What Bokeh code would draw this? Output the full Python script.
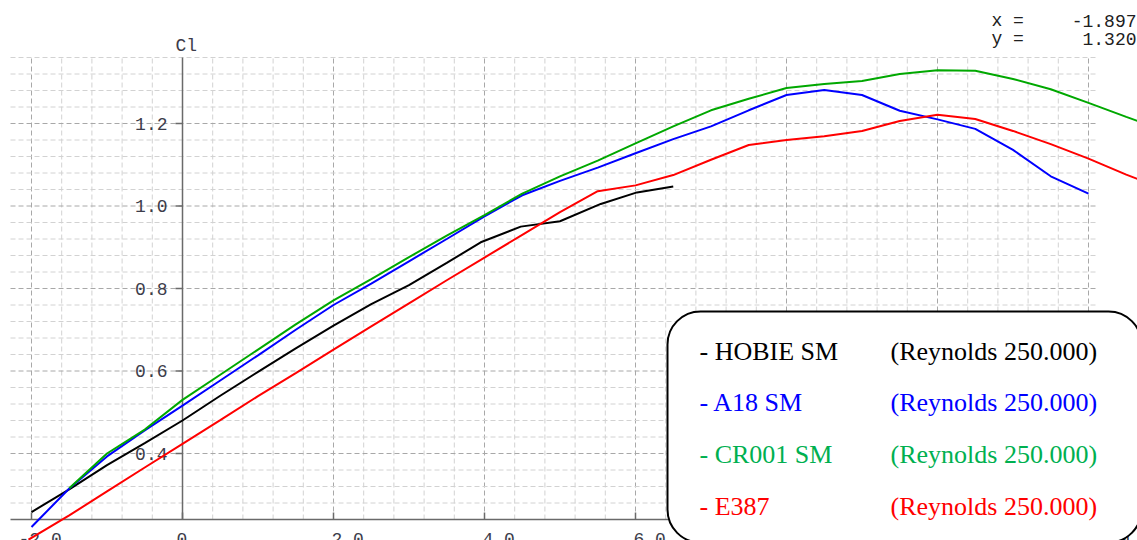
import numpy as np
from bokeh.plotting import figure
from bokeh.models import BoxAnnotation, Range1d
from bokeh.core.properties import value
from bokeh.embed import file_html
from bokeh.resources import INLINE

# ---------------- data ----------------
hobie_alpha = [-2.0, -1.5, -1.0, -0.5, 0.0, 0.5, 1.0, 1.5, 2.0, 2.5, 3.0, 3.5,
               3.95, 4.48, 5.0, 5.54, 6.02, 6.5]
hobie_cl = [0.258, 0.313, 0.372, 0.425, 0.480, 0.540, 0.598, 0.655, 0.710, 0.762,
            0.808, 0.862, 0.912, 0.950, 0.963, 1.005, 1.033, 1.047]

a18_alpha = [-2.0, -1.5, -1.0, -0.5, 0.0, 0.5, 1.0, 1.5, 2.0, 2.5, 3.0, 3.5, 4.0,
             4.5, 5.0, 5.5, 6.0, 6.5, 7.0, 7.5, 8.0, 8.5, 9.0, 9.5, 10.0, 10.5,
             11.0, 11.5, 12.0]
a18_cl = [0.222, 0.315, 0.393, 0.456, 0.516, 0.577, 0.638, 0.700, 0.760, 0.812,
          0.866, 0.920, 0.975, 1.026, 1.061, 1.093, 1.128, 1.162, 1.193, 1.232,
          1.269, 1.281, 1.269, 1.231, 1.210, 1.187, 1.136, 1.072, 1.030]

cr001_alpha = [-1.5, -1.0, -0.5, 0.0, 0.5, 1.0, 1.5, 2.0, 2.5, 3.0, 3.5, 4.0, 4.5,
               5.0, 5.5, 6.0, 6.5, 7.0, 7.5, 8.0, 8.5, 9.0, 9.5, 10.0, 10.5, 11.0,
               11.5, 12.0, 12.5, 12.7]
cr001_cl = [0.316, 0.400, 0.458, 0.530, 0.591, 0.652, 0.713, 0.771, 0.823, 0.876,
            0.928, 0.978, 1.030, 1.072, 1.110, 1.152, 1.193, 1.232, 1.260, 1.286,
            1.296, 1.303, 1.320, 1.329, 1.328, 1.308, 1.283, 1.250, 1.216, 1.203]

e387_alpha = [-2.04, -1.5, -1.0, -0.5, 0.0, 0.5, 1.0, 1.5, 2.0, 2.5, 3.0, 3.5, 4.0,
              4.5, 5.0, 5.5, 6.0, 6.5, 7.0, 7.5, 8.0, 8.5, 9.0, 9.5, 10.0, 10.5,
              11.0, 11.5, 12.0, 12.5, 12.7]
e387_cl = [0.191, 0.250, 0.308, 0.366, 0.4235, 0.481, 0.539, 0.595, 0.652, 0.708,
           0.764, 0.820, 0.875, 0.930, 0.985, 1.036, 1.050, 1.075, 1.112, 1.148,
           1.160, 1.169, 1.182, 1.206, 1.221, 1.211, 1.182, 1.150, 1.115, 1.076,
           1.062]

x_ticks = [-2.0, 0.0, 2.0, 4.0, 6.0, 8.0, 10.0, 12.0]
x_tick_labels = ["-2.0", "0", "2.0", "4.0", "6.0", "8.0", "10.0", "12.0"]
y_ticks = [0.4, 0.6, 0.8, 1.0, 1.2]
y_tick_labels = ["0.4", "0.6", "0.8", "1.0", "1.2"]
y_axis_label = "Cl"

legend_names = ["- HOBIE SM", "- A18 SM", "- CR001 SM", "- E387"]
legend_reynolds = ["(Reynolds 250.000)"] * 4

readout_names = ["x =", "y ="]
readout_values = ["-1.897", "1.320"]

# ---------------- layout (page pixel <-> data) ----------------
PX0, SX = 182.0, 75.5              # page px of alpha = 0, px per degree
PY0, CL0, SY = 519.0, 0.24, 412.5  # page px of Cl axis line, its value, px per unit
ORG = 0                            # page px where the figure starts


def fx(px):
    return (px - PX0) / SX


def fy(py):
    return CL0 + (PY0 - py) / SY


W, H = 1137, 540
p = figure(width=W, height=H, output_backend="svg", toolbar_location=None,
           x_axis_location=None, y_axis_location=None,
           x_range=Range1d(fx(ORG), fx(ORG + W)), y_range=Range1d(fy(ORG + H), fy(ORG)),
           min_border=0, title=None)
p.outline_line_color = None
p.xgrid.visible = False
p.ygrid.visible = False
p.background_fill_color = "white"

mono = value("Liberation Mono")

# ---------------- grid ----------------
gx0, gx1 = fx(10), fx(1097)
gy0, gy1 = CL0, 1.36
vx = np.round(np.arange(-2.0, 12.0001, 0.4), 4)
hy = np.round(np.arange(0.28, 1.3601, 0.04), 4)
v_major = np.isclose(np.mod(vx + 100, 2.0), 0) | np.isclose(np.mod(vx + 100, 2.0), 2.0)
h_major = np.isclose(np.mod(hy * 10 + 0.0001, 2.0), 0, atol=1e-3)

for xs, col in ((vx[~v_major], "#d2d2d2"), (vx[v_major], "#a8a8a8")):
    p.segment(x0=xs, y0=[gy0] * len(xs), x1=xs, y1=[gy1] * len(xs),
              line_color=col, line_width=1, line_dash="5 3")
for ys, col in ((hy[~h_major], "#d2d2d2"), (hy[h_major], "#a8a8a8")):
    p.segment(x0=[gx0] * len(ys), y0=ys, x1=[gx1] * len(ys), y1=ys,
              line_color=col, line_width=1, line_dash="5 3")

# ---------------- axes (crossing inside the frame) ----------------
axis_col = "#6a6a6a"
p.segment(x0=[0.0], y0=[gy0], x1=[0.0], y1=[gy1], line_color=axis_col, line_width=1.5)
p.segment(x0=[gx0], y0=[CL0], x1=[gx1], y1=[CL0], line_color=axis_col, line_width=1.5)
p.segment(x0=[-7 / SX] * len(y_ticks), y0=y_ticks, x1=[0.0] * len(y_ticks), y1=y_ticks,
          line_color=axis_col, line_width=1.5)
p.segment(x0=x_ticks, y0=[CL0] * len(x_ticks), x1=x_ticks,
          y1=[CL0 + 7 / SY] * len(x_ticks), line_color=axis_col, line_width=1.5)

lab_col = "#3c3c4a"
p.text(x=[0.0] * len(y_ticks), y=y_ticks, text=y_tick_labels, text_font=mono,
       text_font_size="18px", text_color=lab_col, text_align="right",
       text_baseline="alphabetic", x_offset=-15, y_offset=0)
x_off = [(-6 if t == "0" else (-13 if t.startswith("-") else -2)) for t in x_tick_labels]
p.text(x=x_ticks, y=[CL0] * len(x_ticks), text=x_tick_labels, text_font=mono,
       text_font_size="18px", text_color=lab_col, text_align="left",
       text_baseline="alphabetic", x_offset=x_off, y_offset=19)
p.text(x=[0.0], y=[gy1], text=[y_axis_label], text_font=mono, text_font_size="18px",
       text_color=lab_col, text_align="left", text_baseline="alphabetic",
       x_offset=-7, y_offset=-12)

# ---------------- curves ----------------
p.line(hobie_alpha, hobie_cl, line_color="#000000", line_width=2)
p.line(a18_alpha, a18_cl, line_color="#0000ff", line_width=2)
p.line(cr001_alpha, cr001_cl, line_color="#00a800", line_width=2)
p.line(e387_alpha, e387_cl, line_color="#ff0000", line_width=2)

# ---------------- readout ----------------
ro_y = [fy(20.7), fy(38.0)]
p.text(x=[fx(991)] * 2, y=ro_y, text=readout_names, text_font=mono,
       text_font_size="18px", text_color="#202020", text_align="left",
       text_baseline="alphabetic")
p.text(x=[fx(1136)] * 2, y=ro_y, text=readout_values, text_font=mono,
       text_font_size="18px", text_color="#202020", text_align="right",
       text_baseline="alphabetic")

# ---------------- legend box ----------------
box = BoxAnnotation(left=fx(667), right=fx(1141), top=fy(311), bottom=fy(542),
                    border_radius=33, fill_color="white", fill_alpha=1.0,
                    line_color="black", line_alpha=1.0, line_width=2)
p.add_layout(box)

leg_colors = ["#000000", "#0000ff", "#00b050", "#ff0000"]
leg_y = [fy(350.5 + 51.9 * i) for i in range(len(legend_names))]
serif = value("Liberation Serif")
p.text(x=[fx(699)] * 4, y=leg_y, text=legend_names, text_color=leg_colors,
       text_font=serif, text_font_size="26px", text_baseline="alphabetic",
       text_align="left", level="overlay")
p.text(x=[fx(890)] * 4, y=leg_y, text=legend_reynolds, text_color=leg_colors,
       text_font=serif, text_font_size="26px", text_baseline="alphabetic",
       text_align="left", level="overlay")

open("out.html", "w").write(file_html(p, INLINE))
